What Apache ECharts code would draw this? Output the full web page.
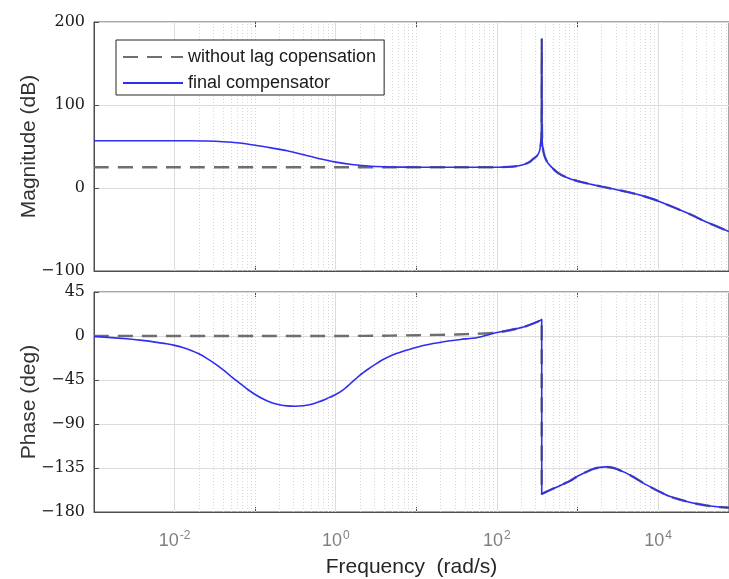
<!DOCTYPE html>
<html>
<head>
<meta charset="utf-8">
<script src="https://cdn.jsdelivr.net/npm/echarts@6/dist/echarts.min.js"></script>
<style>
  html, body { margin: 0; padding: 0; background: #fff; }
  #main { width: 729px; height: 579px; }
</style>
</head>
<body>
<div id="main"></div>
<script>
// frequency (rad/s) and magnitude (dB) of the final compensated loop
const magFreq = [0.001, 0.00316, 0.01, 0.0158, 0.0251, 0.0398, 0.0631, 0.1, 0.158, 0.251, 0.398, 0.631, 1, 1.58, 2.51, 3.98, 6.31, 10, 31.6, 100, 158, 200, 251, 282, 316, 339, 355, 358, 360, 362, 365.5, 376, 389, 417, 457, 575, 724, 1000, 1260, 1585, 2000, 2510, 3160, 3980, 5010, 6310, 7940, 10000, 15850, 25100, 39800, 75900];
const magFinal = [57, 57, 57, 56.9, 56.6, 55.8, 54.2, 51.5, 48.3, 44.8, 40, 35.3, 31.2, 28.3, 26.5, 25.6, 25.2, 25.05, 25, 25, 25.8, 27.3, 31, 35, 39, 45, 58, 75, 179.5, 75, 55, 45, 39, 32, 27, 18, 13, 8.3, 6, 3.8, 1.7, -0.3, -2.3, -4.4, -6.6, -9.2, -12.2, -15.6, -23.5, -31.8, -41, -52.5];
// uncompensated magnitude where it differs from the final curve (joins it above 10 rad/s)
const magUncompFreq = [0.001, 0.01, 0.1, 1, 5, 10];
const magUncomp = [25, 25, 25, 25, 25, 25.05];

// phase (deg)
const phaseFreq = [0.001, 0.00251, 0.00398, 0.00631, 0.00794, 0.01, 0.0126, 0.0158, 0.02, 0.0251, 0.0316, 0.0398, 0.0501, 0.0631, 0.0794, 0.1, 0.126, 0.158, 0.2, 0.251, 0.316, 0.398, 0.501, 0.631, 0.794, 1, 1.26, 1.58, 2, 2.51, 3.16, 3.98, 5.62, 8.32, 12.6, 21.9, 35.5, 56.2, 100, 214, 339, 359.5, 360, 501, 794, 1000, 1585, 2240, 2820, 3980, 5010, 7080, 10000, 13800, 20000, 26900, 39800, 57500, 75900];
const phaseFinal = [-0.5, -2.8, -4.5, -6.8, -8.0, -9.6, -11.7, -14.5, -18.2, -22.9, -28.3, -34.5, -41.2, -47.8, -54.2, -59.8, -64.5, -68, -70.3, -71.5, -71.8, -71.3, -69.9, -67.1, -63.6, -59.8, -54.5, -47.5, -40, -34, -28.5, -23.6, -18, -13.6, -9.5, -5.8, -3.5, -1.7, 3.5, 9.2, 15.5, 17, -161.5, -156, -148.6, -143.5, -135.8, -133.9, -135, -140, -144.5, -152, -158.5, -164, -168, -170.8, -173.3, -174.9, -175.5];
// uncompensated phase (joins the final curve above 100 rad/s)
const phaseUncompFreq = [0.001, 0.1, 1, 5, 10, 31.6, 56.2, 100];
const phaseUncomp = [0, 0, 0, 0.4, 0.8, 1.6, 2.3, 3.5];

const magTicks = [-100, 0, 100, 200];
const phaseTicks = [-180, -135, -90, -45, 0, 45];
const freqTicks = [0.01, 1, 100, 10000];
const freqTickExp = ['-2', '0', '2', '4'];

const fMin = 0.001, fMax = 75900;

function pairs(xs, ys) { return xs.map((x, i) => [x, ys[i]]); }
function withTail(xs, ys, fx, fy, from) {
  const out = pairs(xs, ys);
  fx.forEach((x, i) => { if (x > from) out.push([x, fy[i]]); });
  return out;
}

// vertical grid: solid at labelled decades, dotted elsewhere
const majorV = [], minorV = [];
for (let k = -3; k <= 4; k++) {
  for (let m = 1; m <= 9; m++) {
    const v = m * Math.pow(10, k);
    if (v <= fMin * 1.0001 || v >= fMax) continue;
    if (m === 1 && k % 2 === 0) majorV.push({ xAxis: v });
    else minorV.push({ xAxis: v });
  }
}

const chart = echarts.init(document.getElementById('main'));

const minus = v => (v < 0 ? '\u2212' + (-v) : '' + v);
const serifLabel = { color: '#1a1a1a', fontFamily: 'DejaVu Serif', fontSize: 16, margin: 9 };
const tickStyle = { inside: true, length: 5, lineStyle: { color: '#4d4d4d' } };

function xAxisFor(gridIndex, position, showLabels) {
  return {
    type: 'log', logBase: 10, gridIndex: gridIndex, min: fMin, max: fMax, position: position,
    axisLine: { show: position === 'bottom', onZero: false, lineStyle: { color: '#4d4d4d' } },
    axisTick: tickStyle,
    splitLine: { show: false },
    axisLabel: {
      show: showLabels,
      showMinLabel: false, showMaxLabel: false,
      margin: 18,
      formatter: function (v) {
        const i = freqTicks.findIndex(t => Math.abs(Math.log10(t) - Math.log10(v)) < 1e-6);
        if (i < 0) return '';
        return '{b|10}{s|' + freqTickExp[i] + '}';
      },
      rich: {
        b: { fontSize: 18, color: '#808080', fontFamily: 'Liberation Sans' },
        s: { fontSize: 12, color: '#808080', fontFamily: 'Liberation Sans', padding: [0, 0, 11, 1] }
      }
    },
    name: showLabels ? 'Frequency  (rad/s)' : '',
    nameLocation: 'middle', nameGap: 45,
    nameTextStyle: { fontSize: 21, color: '#262626', fontFamily: 'Liberation Sans' }
  };
}

function yAxisFor(gridIndex, ticks, interval, name) {
  return {
    type: 'value', gridIndex: gridIndex, min: ticks[0], max: ticks[ticks.length - 1], interval: interval,
    name: name, nameLocation: 'middle', nameGap: 54, nameMoveOverlap: false,
    nameTextStyle: { fontSize: 21, color: '#333', fontFamily: 'Liberation Sans' },
    axisLine: { show: true, onZero: false, lineStyle: { color: '#4d4d4d' } },
    axisTick: Object.assign({ show: true }, tickStyle),
    splitLine: { lineStyle: { color: '#dcdcdc' } },
    axisLabel: Object.assign({ formatter: minus }, serifLabel)
  };
}

function gridSeries(xi, yi) {
  const common = { symbol: 'none', silent: true, animation: false, label: { show: false }, z: 1 };
  return [
    { type: 'line', xAxisIndex: xi, yAxisIndex: yi, data: [], z: 1,
      markLine: Object.assign({}, common, { data: minorV, lineStyle: { color: '#d6d6d6', width: 1, type: [1, 2] } }) },
    { type: 'line', xAxisIndex: xi, yAxisIndex: yi, data: [], z: 1,
      markLine: Object.assign({}, common, { data: majorV, lineStyle: { color: '#dcdcdc', width: 1, type: 'solid' } }) }
  ];
}

const dashStyle = { color: '#6e6e6e', width: 2.4, type: [15, 9] };
const blueStyle = { color: '#2e2ef2', width: 1.6 };

function curve(name, xi, data, style, z) {
  return {
    name: name, type: 'line', xAxisIndex: xi, yAxisIndex: xi, z: z,
    symbol: 'none', showSymbol: false, smooth: 0.25,
    lineStyle: style, itemStyle: { color: style.color },
    data: data
  };
}

const option = {
  animation: false,
  backgroundColor: '#fff',
  grid: [
    { left: 94, top: 22, right: -1, height: 249, show: true, borderColor: '#4d4d4d', borderWidth: 1, backgroundColor: 'transparent' },
    { left: 94, top: 292, right: -1, height: 220, show: true, borderColor: '#4d4d4d', borderWidth: 1, backgroundColor: 'transparent' }
  ],
  legend: {
    data: ['without lag copensation', 'final compensator'],
    orient: 'vertical', left: 116, top: 40,
    padding: [8, 8, 3, 6], itemGap: 8,
    itemWidth: 60, itemHeight: 14,
    itemStyle: { opacity: 0 },
    backgroundColor: '#fff', borderColor: '#262626', borderWidth: 1, borderRadius: 0,
    textStyle: { fontSize: 18, color: '#1a1a1a', fontFamily: 'Liberation Sans' }
  },
  xAxis: [
    xAxisFor(0, 'bottom', false),
    xAxisFor(1, 'bottom', true),
    xAxisFor(0, 'top', false),
    xAxisFor(1, 'top', false)
  ],
  yAxis: [
    yAxisFor(0, magTicks, 100, 'Magnitude (dB)'),
    yAxisFor(1, phaseTicks, 45, 'Phase (deg)')
  ],
  series: [
    ...gridSeries(0, 0),
    ...gridSeries(1, 1),
    curve('without lag copensation', 0, withTail(magUncompFreq, magUncomp, magFreq, magFinal, 10), dashStyle, 3),
    curve('final compensator', 0, pairs(magFreq, magFinal), blueStyle, 4),
    curve('without lag copensation', 1, withTail(phaseUncompFreq, phaseUncomp, phaseFreq, phaseFinal, 100), dashStyle, 3),
    curve('final compensator', 1, pairs(phaseFreq, phaseFinal), blueStyle, 4)
  ]
};

chart.setOption(option);
</script>
</body>
</html>
